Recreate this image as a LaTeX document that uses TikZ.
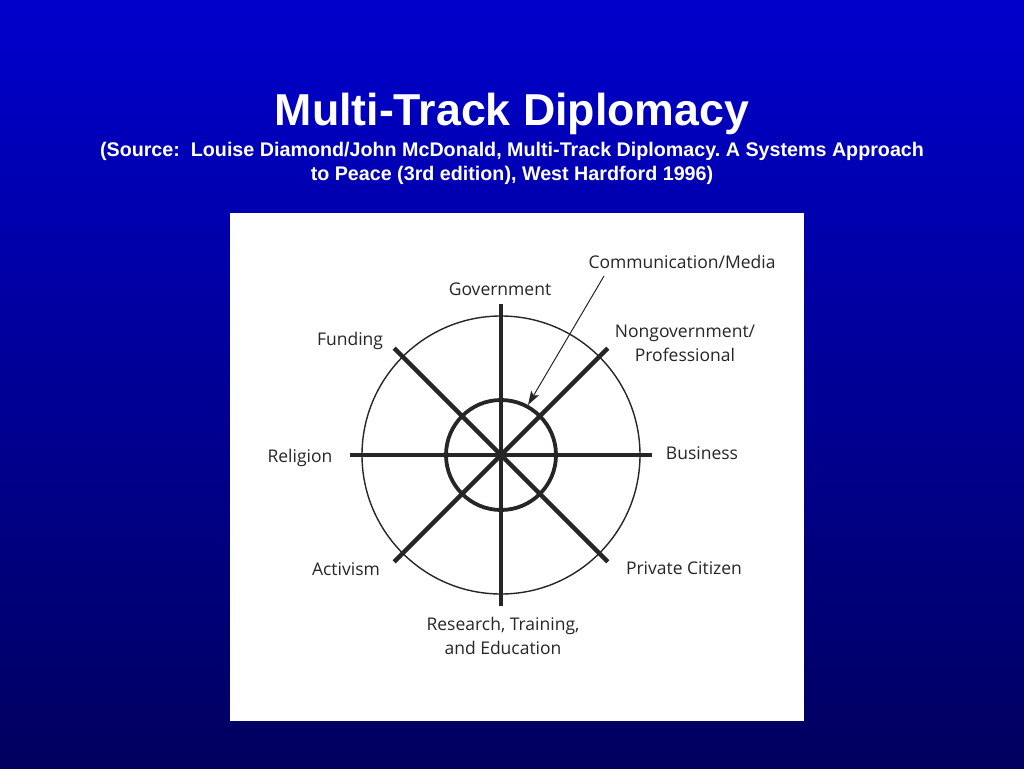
\documentclass[tikz,border=0pt]{standalone}
\usepackage{fontspec}
\setmainfont{Liberation Sans}
\newfontfamily\labelfont{Open Sans}
\usetikzlibrary{arrows.meta}
\definecolor{slidetop}{RGB}{0, 0, 205}
\definecolor{slidebot}{RGB}{0, 0, 95}
\definecolor{ink}{gray}{0.15}
\frenchspacing

\begin{document}
\begin{tikzpicture}[x=1pt, y=-1pt, line cap=butt,
    lbl/.style={font=\labelfont\fontsize{17.5}{24}\selectfont, text=ink, align=center, inner sep=0pt, anchor=base},
    spoke/.style={draw=ink, line width=4.5pt},
    heading/.style={text=white, font=\bfseries, align=center, inner sep=0pt, anchor=base}]
  \useasboundingbox (0, 0) rectangle (1024, 768);
  \shade[top color=slidetop, bottom color=slidebot] (0, 0) rectangle (1024, 768);
  \fill[white] (230, 213) rectangle (804, 721);

  \node[heading, font=\bfseries\fontsize{44.7}{50}\selectfont] (title) at (512, 125) {Multi-Track Diplomacy};
  \node[heading, font=\bfseries\fontsize{19.7}{24}\selectfont] (source) at (512, 180)
    {(Source:\ \ Louise Diamond/John McDonald, Multi-Track Diplomacy. A Systems Approach\\to Peace (3rd edition), West Hardford 1996)};

  \coordinate (c) at (501, 455);
  \draw[ink, line width=1.4pt] (c) circle[radius=139pt];
  \foreach \a in {0, 45, ..., 315}
    \draw[spoke] (c) -- ++(\a:151);
  \draw[ink, line width=3.8pt] (c) circle[radius=55pt];

  \node[lbl] (gov) at (500, 295) {Government};
  \node[lbl] (comm) at (682, 268) {Communication/Media};
  \node[lbl] (ngo) at (685, 361) {Nongovernment/\\Professional};
  \node[lbl] (fund) at (350, 345) {Funding};
  \node[lbl] (rel) at (300, 462) {Religion};
  \node[lbl] (bus) at (702, 459) {Business};
  \node[lbl] (act) at (346, 575) {Activism};
  \node[lbl] (priv) at (684, 574) {Private Citizen};
  \node[lbl] (res) at (503, 654) {Research, Training,\\and Education};

  \coordinate (arrfrom) at (604, 276);
  \coordinate (arrto) at (528, 405);
  \draw[ink, line width=1pt, -{Stealth[length=14pt, width=9pt, inset=3pt]}] (arrfrom) -- (arrto);
\end{tikzpicture}
\end{document}
